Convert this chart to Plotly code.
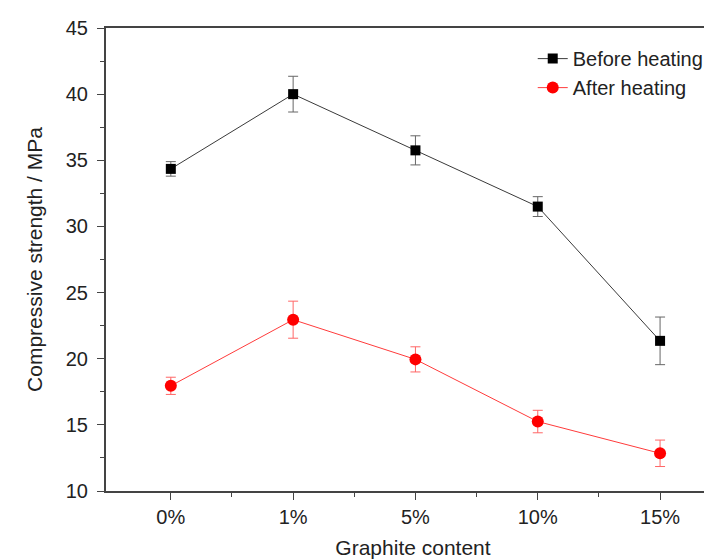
import plotly.graph_objects as go

categories = ["0%", "1%", "5%", "10%", "15%"]
before_vals = [34.35, 40.0, 35.75, 31.5, 21.35]
before_err = [0.55, 1.35, 1.1, 0.75, 1.8]
after_vals = [17.95, 22.95, 19.95, 15.25, 12.85]
after_err = [0.65, 1.4, 0.95, 0.85, 1.0]
y_ticks = [10, 15, 20, 25, 30, 35, 40, 45]

xpos = list(range(len(categories)))
FONT = "Liberation Sans, Arial, sans-serif"

fig = go.Figure()
fig.add_trace(go.Scatter(
    x=xpos, y=before_vals, name="Before heating", mode="lines+markers",
    line=dict(color="#3a3a3a", width=1),
    marker=dict(symbol="square", size=10, color="black"),
    error_y=dict(type="data", array=before_err, color="#666666", thickness=1, width=5),
))
fig.add_trace(go.Scatter(
    x=xpos, y=after_vals, name="After heating", mode="lines+markers",
    line=dict(color="#ff3b3b", width=1),
    marker=dict(symbol="circle", size=12, color="#ff0000"),
    error_y=dict(type="data", array=after_err, color="#ff6666", thickness=1, width=5),
))

fig.update_layout(
    width=712, height=559,
    margin=dict(l=98, r=0, t=20, b=76),
    paper_bgcolor="white", plot_bgcolor="white",
    font=dict(family=FONT, size=20, color="#222222"),
    showlegend=True,
    legend=dict(x=0.695, y=0.976, xanchor="left", yanchor="top",
                bgcolor="rgba(0,0,0,0)", font=dict(size=20, family=FONT),
                tracegroupgap=0),
    xaxis=dict(
        range=[-0.53, 4.49],
        tickvals=xpos, ticktext=categories,
        showline=True, linecolor="#444444", linewidth=2, mirror=True,
        ticks="outside", ticklen=7, tickwidth=1, tickcolor="#444444",
        minor=dict(tickvals=[0.5, 1.5, 2.5, 3.5], ticks="outside", ticklen=4, tickcolor="#444444"),
        showgrid=False, zeroline=False,
        title=dict(text="Graphite content", font=dict(size=21, family=FONT), standoff=13),
        tickfont=dict(size=20, family=FONT),
    ),
    yaxis=dict(
        range=[10, 45],
        tickvals=y_ticks,
        showline=True, linecolor="#444444", linewidth=2, mirror=False,
        ticks="outside", ticklen=7, tickwidth=1, tickcolor="#444444",
        ticklabelstandoff=5,
        minor=dict(dtick=2.5, ticks="outside", ticklen=4, tickcolor="#444444"),
        showgrid=False, zeroline=False,
        title=dict(text="Compressive strength / MPa", font=dict(size=21, family=FONT), standoff=17),
        tickfont=dict(size=20, family=FONT),
    ),
)

fig.write_html("out.html")
